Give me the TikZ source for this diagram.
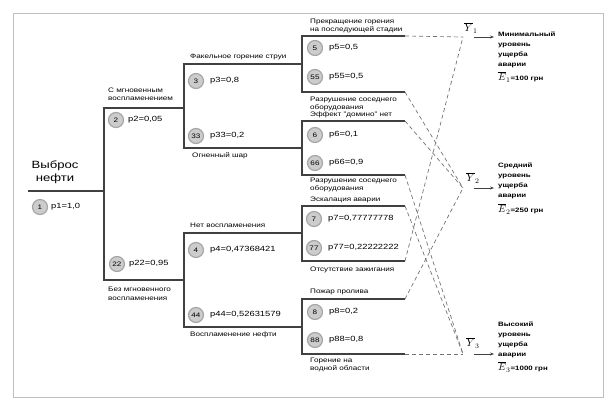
\documentclass[tikz,border=0pt]{standalone}
\usepackage{fontspec}
\setmainfont[FakeStretch=1.25]{Liberation Sans}
\usetikzlibrary{arrows.meta}
\begin{document}
\begin{tikzpicture}[x=1pt,y=-1pt,
  tree/.style={draw=black!75, line width=1.1pt},
  dashline/.style={draw=black!55, line width=0.7pt, dash pattern=on 4pt off 3pt},
  num/.style={circle, draw=gray!70, line width=1.2pt, fill=gray!40, minimum size=15pt, inner sep=0pt, font=\fontsize{6.5}{7}\selectfont},
  plab/.style={anchor=west, inner sep=0pt, font=\fontsize{7.5}{9}\selectfont},
  blab/.style={anchor=west, align=left, inner sep=0pt, font=\fontsize{6.5}{8.5}\selectfont},
  rlab/.style={anchor=west, align=left, inner sep=0pt, font=\bfseries\fontsize{6.3}{10}\selectfont},
  ylab/.style={inner sep=0pt, font=\fontsize{10.5}{12}\selectfont},
  outarrow/.style={draw=black!75, line width=0.7pt, -{Stealth[length=4pt,width=3pt]}}
]
\useasboundingbox (0,0) rectangle (614,409);
\draw[gray!50] (13,13) rectangle (603,397);

% coordinates
\coordinate (r0) at (28,191);
\coordinate (r1) at (104,191);
\coordinate (t2) at (104,108);
\coordinate (t22) at (104,280);
\coordinate (j3) at (184,108);
\coordinate (j4) at (184,280);
\coordinate (b3t) at (184,64);
\coordinate (b3b) at (184,148);
\coordinate (b4t) at (184,233);
\coordinate (b4b) at (184,327);
\coordinate (jA) at (302,64);
\coordinate (jB) at (302,148);
\coordinate (jC) at (302,233);
\coordinate (jD) at (302,327);
\coordinate (At) at (302,36);  \coordinate (Ae1) at (405,36);
\coordinate (Ab) at (302,92);  \coordinate (Ae2) at (405,92);
\coordinate (Bt) at (302,121); \coordinate (Be1) at (405,121);
\coordinate (Bb) at (302,175); \coordinate (Be2) at (405,175);
\coordinate (Ct) at (302,206); \coordinate (Ce1) at (405,206);
\coordinate (Cb) at (302,261); \coordinate (Ce2) at (405,261);
\coordinate (Dt) at (302,299); \coordinate (De1) at (405,299);
\coordinate (Db) at (302,354); \coordinate (De2) at (405,354);
\coordinate (y1) at (463,37);
\coordinate (y2) at (463,188);
\coordinate (y3) at (463,354);
\coordinate (y1a) at (474,37); \coordinate (y1b) at (494,37);
\coordinate (y2a) at (474,188); \coordinate (y2b) at (494,188);
\coordinate (y3a) at (474,354); \coordinate (y3b) at (494,354);

% tree lines
\draw[tree] (r0) -- (r1);
\draw[tree] (j3) -- (t2) -- (t22) -- (j4);
\draw[tree] (jA) -- (b3t) -- (b3b) -- (jB);
\draw[tree] (jC) -- (b4t) -- (b4b) -- (jD);
\draw[tree] (Ae1) -- (At) -- (Ab) -- (Ae2);
\draw[tree] (Be1) -- (Bt) -- (Bb) -- (Be2);
\draw[tree] (Ce1) -- (Ct) -- (Cb) -- (Ce2);
\draw[tree] (De1) -- (Dt) -- (Db) -- (De2);

% dashed connectors to outcomes
\draw[dashline] (Ae1) -- (y1);
\draw[dashline] (Ce2) -- (y1);
\draw[dashline] (Ae2) -- (y2);
\draw[dashline] (Be1) -- (y2);
\draw[dashline] (De1) -- (y2);
\draw[dashline] (Be2) -- (y3);
\draw[dashline] (Ce1) -- (y3);
\draw[dashline] (De2) -- (y3);
\draw[outarrow] (y1a) -- (y1b);
\draw[outarrow] (y2a) -- (y2b);
\draw[outarrow] (y3a) -- (y3b);

% root
\node[align=center, inner sep=0pt, font=\fontsize{10.5}{13}\selectfont] (root) at (55,172) {Выброс\\нефти};
\node[num] (n1) at (40,207) {1};
\node[plab] (p1) at (51,207) {p1=1,0};

% level 2
\node[blab] (l2) at (108,94.5) {С мгновенным\\воспламенением};
\node[num] (n2) at (116,120) {2};
\node[plab] (p2) at (128,120) {p2=0,05};
\node[num] (n22) at (117,264) {22};
\node[plab] (p22) at (129,264) {p22=0,95};
\node[blab] (l22) at (108,294) {Без мгновенного\\воспламенения};

% level 3
\node[blab] (l3) at (190,57) {Факельное горение струи};
\node[num] (n3) at (196,81) {3};
\node[plab] (p3) at (210,81) {p3=0,8};
\node[num] (n33) at (196,136) {33};
\node[plab] (p33) at (210,136) {p33=0,2};
\node[blab] (l33) at (192,156) {Огненный шар};

\node[blab] (l4) at (190,225) {Нет воспламенения};
\node[num] (n4) at (196,250) {4};
\node[plab] (p4) at (210,250) {p4=0,47368421};
\node[num] (n44) at (196,315) {44};
\node[plab] (p44) at (210,315) {p44=0,52631579};
\node[blab] (l44) at (190,335) {Воспламенение нефти};

% leaves
\node[blab] (l5) at (310,26) {Прекращение горения\\на последующей стадии};
\node[num] (n5) at (315,48) {5};
\node[plab] (p5) at (329,48) {p5=0,5};
\node[num] (n55) at (315,77) {55};
\node[plab] (p55) at (329,77) {p55=0,5};
\node[blab] (l55) at (310,104) {Разрушение соседнего\\оборудования};

\node[blab] (l6) at (310,115) {Эффект "домино" нет};
\node[num] (n6) at (315,135) {6};
\node[plab] (p6) at (329,135) {p6=0,1};
\node[num] (n66) at (315,163) {66};
\node[plab] (p66) at (329,163) {p66=0,9};
\node[blab] (l66) at (310,185) {Разрушение соседнего\\оборудования};

\node[blab] (l7) at (310,200) {Эскалация аварии};
\node[num] (n7) at (314,219) {7};
\node[plab] (p7) at (328,219) {p7=0,77777778};
\node[num] (n77) at (314,248) {77};
\node[plab] (p77) at (328,248) {p77=0,22222222};
\node[blab] (l77) at (310,270) {Отсутствие зажигания};

\node[blab] (l8) at (310,292) {Пожар пролива};
\node[num] (n8) at (315,312) {8};
\node[plab] (p8) at (329,312) {p8=0,2};
\node[num] (n88) at (315,340) {88};
\node[plab] (p88) at (329,340) {p88=0,8};
\node[blab] (l88) at (310,365) {Горение на\\водной области};

% outcomes
\node[ylab] (Y1) at (471,28) {$\overline{Y}_1$};
\node[ylab] (Y2) at (473,178) {$\overline{Y}_2$};
\node[ylab] (Y3) at (473,343) {$\overline{Y}_3$};
\node[rlab] (o1) at (498,50) {Минимальный\\уровень\\ущерба\\аварии};
\node[rlab] (e1) at (498,77) {\fontsize{10}{12}\selectfont$\overline{E}_1$\fontsize{6.3}{10}\selectfont=100 грн};
\node[rlab] (o2) at (498,181) {Средний\\уровень\\ущерба\\аварии};
\node[rlab] (e2) at (498,209) {\fontsize{10}{12}\selectfont$\overline{E}_2$\fontsize{6.3}{10}\selectfont=250 грн};
\node[rlab] (o3) at (498,340) {Высокий\\уровень\\ущерба\\аварии};
\node[rlab] (e3) at (498,367) {\fontsize{10}{12}\selectfont$\overline{E}_3$\fontsize{6.3}{10}\selectfont=1000 грн};
\end{tikzpicture}
\end{document}
